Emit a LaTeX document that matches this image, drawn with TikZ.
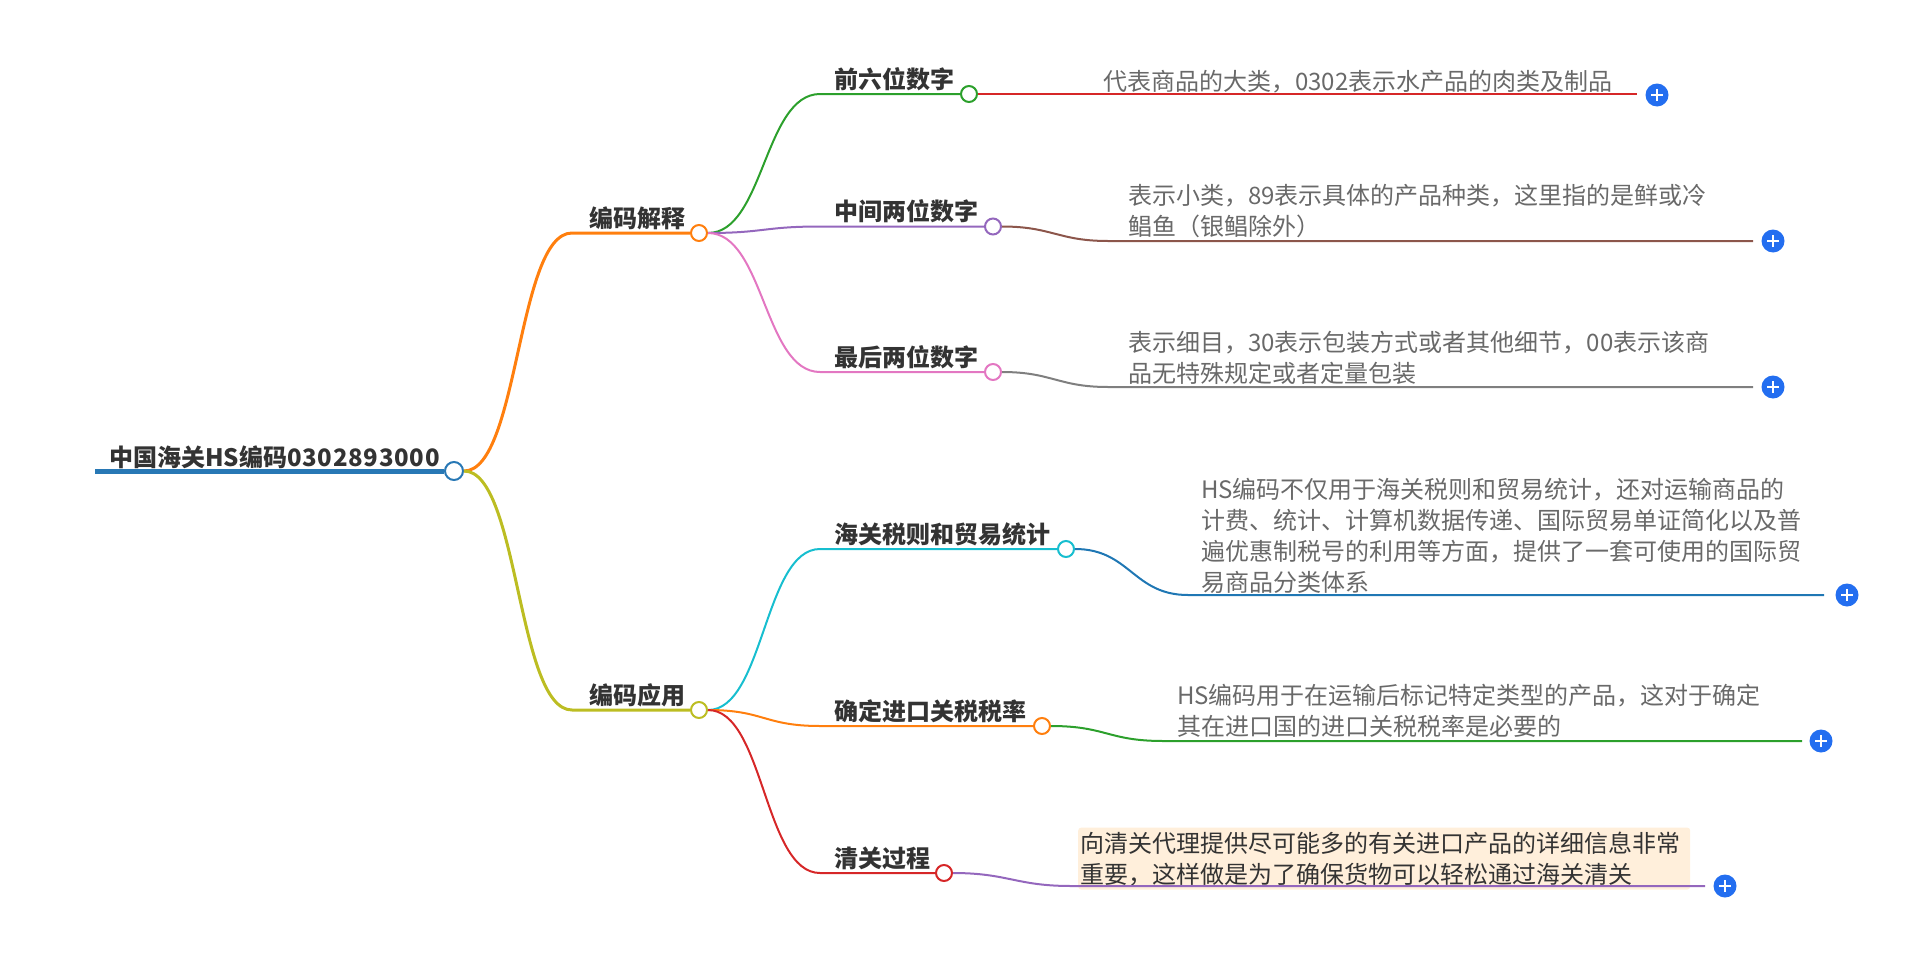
\documentclass[tikz,border=0pt]{standalone}
\usepackage{fontspec}
\setmainfont{Noto Sans CJK SC}
\usetikzlibrary{calc}
\definecolor{cRoot}{RGB}{40,120,181}
\definecolor{cOrange}{RGB}{255,127,14}
\definecolor{cOlive}{RGB}{188,189,34}
\definecolor{cGreen}{RGB}{44,160,44}
\definecolor{cPurple}{RGB}{148,103,189}
\definecolor{cPink}{RGB}{227,119,194}
\definecolor{cRed}{RGB}{214,39,40}
\definecolor{cBrown}{RGB}{140,86,75}
\definecolor{cGrey}{RGB}{127,127,127}
\definecolor{cCyan}{RGB}{23,190,207}
\definecolor{cBlue}{RGB}{31,119,180}
\definecolor{labeltext}{RGB}{51,51,51}
\definecolor{leaftext}{RGB}{105,105,105}
\definecolor{plusblue}{RGB}{35,110,240}
\definecolor{hl}{RGB}{255,239,219}
\begin{document}
\begin{tikzpicture}[x=1pt,y=-1pt,
  dotnode/.style={circle,draw=#1,fill=white,line width=2pt,minimum size=16pt,inner sep=0pt},
  rootdot/.style={circle,draw=cRoot,fill=white,line width=2pt,minimum size=18pt,inner sep=0pt},
  lbl/.style={anchor=base west,inner sep=0pt,text=labeltext,font=\fontsize{24}{28}\selectfont\bfseries},
  leaf/.style={anchor=base west,inner sep=0pt,text=leaftext,font=\fontsize{24}{31}\selectfont},
  plusbtn/.style={circle,fill=plusblue,minimum size=23pt,inner sep=0pt,
    path picture={\draw[white,line width=2.2pt]
      ([xshift=-6pt]path picture bounding box.center) -- ([xshift=6pt]path picture bounding box.center)
      ([yshift=-6pt]path picture bounding box.center) -- ([yshift=6pt]path picture bounding box.center);}},
  brone/.style={line width=3pt},
  brtwo/.style={line width=2pt},
]
\useasboundingbox (0,0) rectangle (1920,953);

% ---- highlighted leaf (under its connector) ----
\node[leaf,fill=hl,rounded corners=3pt,inner xsep=2pt,inner ysep=4pt,text=labeltext] (x6) at (1078,852) {\parbox[t]{608pt}{\raggedright 向清关代理提供尽可能多的有关进口产品的详细信息非常\\重要，这样做是为了确保货物可以轻松通过海关清关}};

% ---- dots ----
\node[rootdot] (root) at (454,471) {};
\node[dotnode=cOrange] (A) at (699,233) {};
\node[dotnode=cOlive] (B) at (699,710) {};
\node[dotnode=cGreen] (A1) at (969,94) {};
\node[dotnode=cPurple] (A2) at (993,226.5) {};
\node[dotnode=cPink] (A3) at (993,372) {};
\node[dotnode=cCyan] (B1) at (1066,549) {};
\node[dotnode=cOrange] (B2) at (1042,726) {};
\node[dotnode=cRed] (B3) at (944,873) {};

% ---- plus buttons ----
\node[plusbtn] (p1) at (1657,95) {};
\node[plusbtn] (p2) at (1773,241) {};
\node[plusbtn] (p3) at (1773,387) {};
\node[plusbtn] (p4) at (1847,595) {};
\node[plusbtn] (p5) at (1821,741) {};
\node[plusbtn] (p6) at (1725,886) {};

% ---- bend coordinates ----
\coordinate (r0) at (95,471);
\coordinate (ka) at (572,233);
\coordinate (kb) at (572,710);
\coordinate (ka1) at (820,94);
\coordinate (ka2) at (820,226.5);
\coordinate (ka3) at (820,372);
\coordinate (kb1) at (820,549);
\coordinate (kb2) at (820,726);
\coordinate (kb3) at (820,873);
\coordinate (l1b) at (1087,94);   \coordinate (l1e) at (1637,94);
\coordinate (l2b) at (1108,241);  \coordinate (l2e) at (1753,241);
\coordinate (l3b) at (1108,387);  \coordinate (l3e) at (1753,387);
\coordinate (l4b) at (1188,595);  \coordinate (l4e) at (1824,595);
\coordinate (l5b) at (1163,741);  \coordinate (l5e) at (1802,741);
\coordinate (l6b) at (1071,886);  \coordinate (l6e) at (1705,886);

% ---- connectors ----
\draw[cRoot,line width=5pt] (r0) -- (root.west);
\draw[cOrange,brone] (root.east) .. controls +(55,0) and +(-55,0) .. (ka) -- (A.west);
\draw[cOlive,brone] (root.east) .. controls +(55,0) and +(-55,0) .. (kb) -- (B.west);

\draw[cGreen,brtwo] (A.east) .. controls +(56,0) and +(-56,0) .. (ka1) -- (A1.west);
\draw[cPurple,brtwo] (A.east) .. controls +(56,0) and +(-56,0) .. (ka2) -- (A2.west);
\draw[cPink,brtwo] (A.east) .. controls +(56,0) and +(-56,0) .. (ka3) -- (A3.west);
\draw[cCyan,brtwo] (B.east) .. controls +(56,0) and +(-56,0) .. (kb1) -- (B1.west);
\draw[cOrange,brtwo] (B.east) .. controls +(56,0) and +(-56,0) .. (kb2) -- (B2.west);
\draw[cRed,brtwo] (B.east) .. controls +(56,0) and +(-56,0) .. (kb3) -- (B3.west);

\draw[cRed,brtwo] (A1.east) .. controls +(50,0) and +(-50,0) .. (l1b) -- (l1e);
\draw[cBrown,brtwo] (A2.east) .. controls +(50,0) and +(-50,0) .. (l2b) -- (l2e);
\draw[cGrey,brtwo] (A3.east) .. controls +(50,0) and +(-50,0) .. (l3b) -- (l3e);
\draw[cBlue,brtwo] (B1.east) .. controls +(55,0) and +(-55,0) .. (l4b) -- (l4e);
\draw[cGreen,brtwo] (B2.east) .. controls +(55,0) and +(-55,0) .. (l5b) -- (l5e);
\draw[cPurple,brtwo] (B3.east) .. controls +(55,0) and +(-55,0) .. (l6b) -- (l6e);

% ---- labels ----
\node[lbl] (troot) at (109,466) {中国海关HS编码{\addfontfeature{LetterSpace=3}0302893000}};
\node[lbl] (tA) at (589,227) {编码解释};
\node[lbl] (tB) at (589,704) {编码应用};
\node[lbl] (tA1) at (834,88) {前六位数字};
\node[lbl] (tA2) at (834,220.5) {中间两位数字};
\node[lbl] (tA3) at (834,366) {最后两位数字};
\node[lbl] (tB1) at (834,543) {海关税则和贸易统计};
\node[lbl] (tB2) at (834,720) {确定进口关税税率};
\node[lbl] (tB3) at (834,867) {清关过程};

% ---- leaf texts ----
\node[leaf] (x1) at (1103,90) {代表商品的大类，0302表示水产品的肉类及制品};
\node[leaf] (x2) at (1128,204) {\parbox[t]{800pt}{\raggedright 表示小类，89表示具体的产品种类，这里指的是鲜或冷\\鲳鱼（银鲳除外）}};
\node[leaf] (x3) at (1128,351) {\parbox[t]{800pt}{\raggedright 表示细目，30表示包装方式或者其他细节，00表示该商\\品无特殊规定或者定量包装}};
\node[leaf] (x4) at (1201,498) {\parbox[t]{800pt}{\raggedright HS编码不仅用于海关税则和贸易统计，还对运输商品的\\计费、统计、计算机数据传递、国际贸易单证简化以及普\\遍优惠制税号的利用等方面，提供了一套可使用的国际贸\\易商品分类体系}};
\node[leaf] (x5) at (1177,704) {\parbox[t]{800pt}{\raggedright HS编码用于在运输后标记特定类型的产品，这对于确定\\其在进口国的进口关税税率是必要的}};
\end{tikzpicture}
\end{document}
